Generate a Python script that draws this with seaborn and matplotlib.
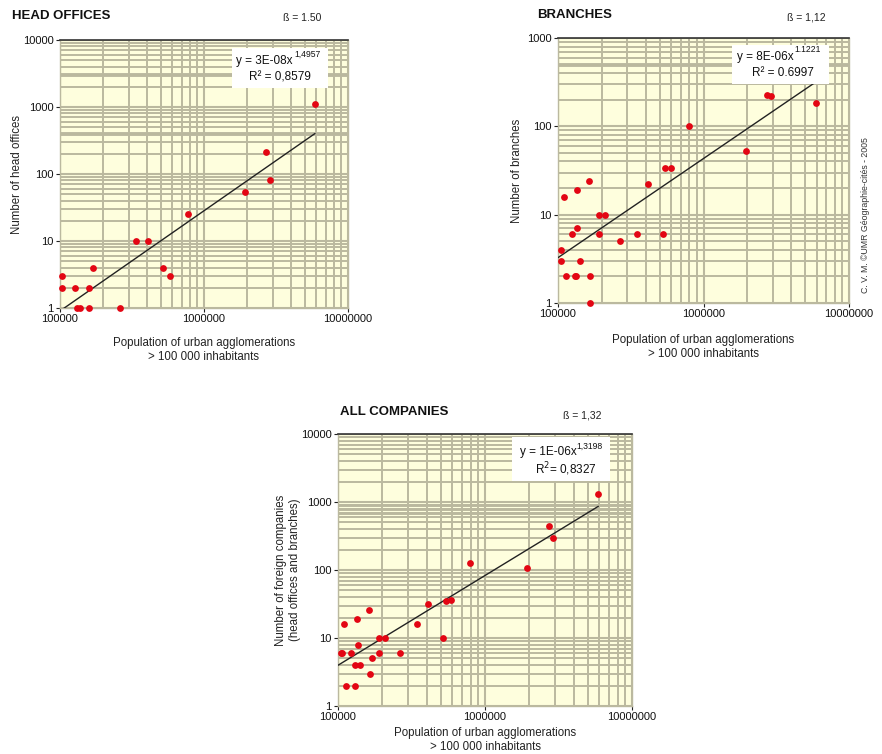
import numpy as np
import pandas as pd
import matplotlib
matplotlib.use("Agg")
import matplotlib.pyplot as plt
import seaborn as sns
from matplotlib.ticker import LogLocator, FixedLocator, FixedFormatter, NullFormatter

sns.set_theme(style="white")
plt.rcParams['font.family'] = ['Liberation Sans', 'DejaVu Sans']

# ---------------- data ----------------
ho_pop = [102800, 102800, 127000, 132000, 138000, 160000, 160000, 169000, 261000,
          337000, 406000, 516000, 580000, 779000, 1930000, 2700000, 2870000, 5900000]
ho_val = [3, 2, 2, 1, 1, 1, 2, 4, 1, 10, 10, 4, 3, 25, 53, 210, 80, 1100]

br_pop = [105000, 105000, 110000, 113000, 124000, 130000, 133000, 135000, 136000, 141000,
          163000, 166000, 166000, 190000, 190000, 210000, 268000, 347000, 416000, 528000,
          547000, 596000, 794000, 1960000, 2750000, 2910000, 5930000]
br_val = [4, 3, 16, 2, 6, 2, 2, 19, 7, 3, 24, 2, 1, 10, 6, 10, 5, 6, 22, 6,
          34, 34, 102, 52, 229, 221, 182]

all_pop = [105000, 107000, 110000, 113000, 123000, 131000, 131000, 135000, 136000, 141000,
           163000, 165000, 171000, 189000, 189000, 209000, 265000, 343000, 411000, 520000,
           543000, 587000, 787000, 1930000, 2720000, 2880000, 5900000]
all_val = [6, 6, 16, 2, 6, 4, 2, 19, 8, 4, 26, 3, 5, 10, 6, 10, 6, 16, 32, 10,
           35, 36, 126, 106, 444, 299, 1300]

# fitted power laws y = a * x^b (as printed on chart)
fit_a = [3e-08, 8e-06, 1e-06]
fit_b = [1.4957, 1.1221, 1.3198]
fit_xmax = [5.9e6, 5.93e6, 5.9e6]

titles = ["HEAD OFFICES", "BRANCHES", "ALL COMPANIES"]
betas = ["ß = 1.50", "ß = 1,12", "ß = 1,32"]
eq_texts = ["y = 3E-08x", "y = 8E-06x", "y = 1E-06x"]
eq_exps = ["1,4957", "1.1221", "1,3198"]
r2_texts = ["R² = 0,8579", "R² = 0.6997", "R$^2$= 0,8327"]
ylabels = ["Number of head offices", "Number of branches",
           "Number of foreign companies\n(head offices and branches)"]
xlabel = "Population of urban agglomerations\n> 100 000 inhabitants"
x_ticks = [100000, 1000000, 10000000]
x_ticklabels = ["100000", "1000000", "10000000"]
y_ticks_4 = [1, 10, 100, 1000, 10000]
y_ticklabels_4 = ["1", "10", "100", "1000", "10000"]
y_ticks_3 = [1, 10, 100, 1000]
y_ticklabels_3 = ["1", "10", "100", "1000"]
thick_lines = [[400, 3000], [500], [700, 800, 900]]

# ---------------- layout ----------------
W, H = 882, 754
fig = plt.figure(figsize=(W / 100, H / 100), dpi=100)
fig.patch.set_facecolor("white")

boxes = [(60, 40, 348, 308), (558, 38, 849, 303), (338, 434, 632, 706)]
xlabel_top = [337, 334, 727]
ylabel_x = [17, 517, 288]
ymaxs = [10000, 1000, 10000]
bg = "#fefedd"
gridc = "#bbb99f"
red = "#e30613"

# equation box geometry (pixels) and text positions (pixels)
eq_boxes = [(232, 48, 328, 88), (732, 45, 829, 84), (512, 437, 610, 481)]
eq_xy = [(236, 61), (737, 57), (520, 452)]
exp_xy = [(294, 54), (794, 50), (576, 446)]
r2_xy = [(249, 77), (752, 73), (535, 469)]

datasets = [(ho_pop, ho_val), (br_pop, br_val), (all_pop, all_val)]

for i, (l, t, r, b) in enumerate(boxes):
    ax = fig.add_axes([l / W, 1 - b / H, (r - l) / W, (b - t) / H])
    ax.set_facecolor(bg)
    ax.set_xscale("log")
    ax.set_yscale("log")
    ax.set_xlim(1e5, 1e7)
    ax.set_ylim(1, ymaxs[i])
    ax.xaxis.set_minor_locator(LogLocator(base=10, subs=np.arange(2, 10)))
    ax.yaxis.set_minor_locator(LogLocator(base=10, subs=np.arange(2, 10)))
    ax.xaxis.set_minor_formatter(NullFormatter())
    ax.yaxis.set_minor_formatter(NullFormatter())
    ax.xaxis.set_major_locator(FixedLocator(x_ticks))
    ax.xaxis.set_major_formatter(FixedFormatter(x_ticklabels))
    if ymaxs[i] == 10000:
        ax.yaxis.set_major_locator(FixedLocator(y_ticks_4))
        ax.yaxis.set_major_formatter(FixedFormatter(y_ticklabels_4))
    else:
        ax.yaxis.set_major_locator(FixedLocator(y_ticks_3))
        ax.yaxis.set_major_formatter(FixedFormatter(y_ticklabels_3))
    ax.grid(which="major", color=gridc, lw=1.5, zorder=0)
    ax.grid(which="minor", color=gridc, lw=1.4, zorder=0)
    ax.set_axisbelow(True)
    for v in thick_lines[i]:
        ax.axhline(v, color="#afad95", lw=2.6 if len(thick_lines[i]) < 3 else 1.9,
                   zorder=0.5)

    ax.tick_params(which="major", length=3, width=0.8, color="#222222",
                   labelsize=8, pad=1.5, labelcolor="#111111",
                   bottom=True, left=True)
    ax.tick_params(which="minor", length=0)
    for side, sp in ax.spines.items():
        sp.set_linewidth(1.0)
        sp.set_color(gridc)
    ax.spines["top"].set_color("#333333")
    ax.spines["top"].set_linewidth(1.2)

    # fit line
    xs = np.geomspace(1e5, fit_xmax[i], 200)
    fit_df = pd.DataFrame({"x": xs, "y": fit_a[i] * xs ** fit_b[i]})
    sns.lineplot(data=fit_df, x="x", y="y", ax=ax, color="#222222", lw=1.0, zorder=3)

    # points
    pop, val = datasets[i]
    df = pd.DataFrame({"pop": pop, "val": val})
    sns.scatterplot(data=df, x="pop", y="val", ax=ax, color=red, s=24, marker="o",
                    edgecolor=red, linewidth=0, zorder=4, clip_on=False)

    ax.set_xlabel(xlabel, fontsize=8.3, color="#222222", linespacing=1.25)
    ax.xaxis.set_label_coords(0.5, -(xlabel_top[i] - b) / (b - t))
    ax.xaxis.label.set_va("top")
    ax.set_ylabel(ylabels[i], fontsize=8.3, color="#222222", linespacing=1.25)
    ax.yaxis.label.set_va("center")
    ax.yaxis.set_label_coords((ylabel_x[i] - l) / (r - l), 0.5)

    # equation box
    bx = eq_boxes[i]
    bax = fig.add_axes([bx[0] / W, 1 - bx[3] / H, (bx[2] - bx[0]) / W, (bx[3] - bx[1]) / H])
    bax.set_facecolor("white")
    bax.set_xticks([]); bax.set_yticks([])
    for sp in bax.spines.values():
        sp.set_visible(False)
    fig.text(eq_xy[i][0] / W, 1 - eq_xy[i][1] / H, eq_texts[i], fontsize=8.5,
             ha="left", va="center", color="#111111", zorder=10)
    fig.text(exp_xy[i][0] / W, 1 - exp_xy[i][1] / H, eq_exps[i], fontsize=6.2,
             ha="left", va="center", color="#111111", zorder=10)
    fig.text(r2_xy[i][0] / W, 1 - r2_xy[i][1] / H, r2_texts[i], fontsize=8.5,
             ha="left", va="center", color="#111111", zorder=10)

# titles
title_pos = [(12, 16), (537, 15), (340, 412)]
beta_pos = [(283, 18), (787, 18), (563, 416)]
for i in range(3):
    fig.text(title_pos[i][0] / W, 1 - title_pos[i][1] / H, titles[i], fontsize=9.5,
             fontweight="bold", ha="left", va="center", color="#111111")
    fig.text(beta_pos[i][0] / W, 1 - beta_pos[i][1] / H, betas[i], fontsize=7.5,
             ha="left", va="center", color="#222222")

fig.text(866 / W, 1 - 215 / H, "C. V. M. ©UMR Géographie-cités - 2005", rotation=90,
         fontsize=6.3, ha="center", va="center", color="#333333")

fig.savefig("out.png", dpi=100)
